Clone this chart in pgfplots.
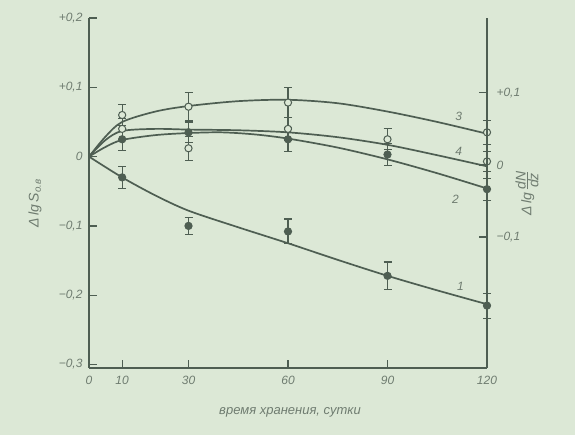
\documentclass[border=0pt]{standalone}
\usepackage{pgfplots}
\pgfplotsset{compat=1.18}
\usepackage{fontspec}
\setmainfont{Liberation Sans}
\definecolor{bg}{HTML}{DCE8D6}
\definecolor{ink}{HTML}{4E5E52}
\definecolor{txt}{HTML}{6F7C70}

\begin{document}
\begin{tikzpicture}[x=1pt,y=1pt]
\fill[bg] (0,0) rectangle (575,435);
\path[use as bounding box] (0,0) rectangle (575,435);
\pgfplotsset{
  common/.style={at={(89pt,67pt)}, anchor=south west, scale only axis,
    width=398pt, height=350pt, xmin=0, xmax=120,
    axis line style={ink, line width=1.3pt, -},
    tick align=inside, major tick length=8pt,
    tick style={ink, line width=1.2pt},
    /pgf/number format/assume math mode=true,
    ticklabel style={font=\fontsize{12}{14}\selectfont\itshape, text=txt},
    clip=false},
  crv/.style={ink, line width=1.7pt, smooth, no marks},
  pts/.style={ink, only marks, line width=1pt, mark size=3.6pt,
    error bars/y dir=both, error bars/y explicit,
    error bars/error bar style={ink, line width=1.1pt},
    error bars/error mark options={rotate=90, mark size=4pt, ink, line width=1.1pt}},
}
\begin{axis}[common,
  ymin=-0.305, ymax=0.2,
  axis x line*=bottom, axis y line*=left,
  xtick={0,10,30,60,90,120},
  xticklabels={\textit{0},\textit{10},\textit{30},\textit{60},\textit{90},\textit{120}},
  xticklabel style={yshift=-5pt},
  ytick={-0.3,-0.2,-0.1,0,0.1,0.2},
  yticklabels={\textit{−0,3},\textit{−0,2},\textit{−0,1},\textit{0},\textit{+0,1},\textit{+0,2}},
  yticklabel style={xshift=-3pt},
]
% curve 3
\addplot[crv] coordinates {(0,0) (5,0.029) (10,0.050) (20,0.065) (30,0.073) (45,0.080) (60,0.082) (75,0.077) (90,0.065) (105,0.050) (120,0.033)};
% curve 4
\addplot[crv] coordinates {(0,0) (5,0.024) (10,0.037) (20,0.040) (30,0.039) (45,0.038) (60,0.035) (75,0.028) (90,0.017) (105,0.002) (120,-0.014)};
% curve 2
\addplot[crv] coordinates {(0,0) (5,0.014) (10,0.024) (20,0.031) (30,0.034) (40,0.035) (50,0.032) (60,0.026) (75,0.013) (90,-0.004) (105,-0.024) (120,-0.046)};
% curve 1
\addplot[crv] coordinates {(0,0) (10,-0.030) (20,-0.056) (30,-0.078) (45,-0.102) (60,-0.125) (75,-0.149) (90,-0.172) (105,-0.193) (120,-0.213)};
% points curve 3 (open)
\addplot[pts, mark=*, mark options={fill=bg, draw=ink}] coordinates {
 (10,0.060) +- (0,0.015) (30,0.072) +- (0,0.020) (60,0.078) +- (0,0.022) (120,0.035) +- (0,0.017)};
% points curve 4 (open)
\addplot[pts, mark=*, mark options={fill=bg, draw=ink}] coordinates {
 (10,0.040) +- (0,0.015) (30,0.012) +- (0,0.017) (60,0.040) +- (0,0.017) (90,0.025) +- (0,0.015) (120,-0.007) +- (0,0.015)};
% points curve 2 (filled)
\addplot[pts, mark=*, mark options={fill=ink, draw=ink}] coordinates {
 (10,0.025) +- (0,0.016) (30,0.035) +- (0,0.015) (60,0.025) +- (0,0.017) (90,0.003) +- (0,0.016) (120,-0.047) +- (0,0.016)};
% points curve 1 (filled)
\addplot[pts, mark=*, mark options={fill=ink, draw=ink}] coordinates {
 (10,-0.030) +- (0,0.016) (30,-0.100) +- (0,0.012) (60,-0.108) +- (0,0.018) (90,-0.172) +- (0,0.020) (120,-0.215) +- (0,0.018)};
\node[text=txt, font=\fontsize{12}{14}\selectfont\itshape] at (axis cs:111.5,0.058) {3};
\node[text=txt, font=\fontsize{12}{14}\selectfont\itshape] at (axis cs:111.5,0.007) {4};
\node[text=txt, font=\fontsize{12}{14}\selectfont\itshape] at (axis cs:110.5,-0.062) {2};
\node[text=txt, font=\fontsize{12}{14}\selectfont\itshape] at (axis cs:112,-0.187) {1};
\end{axis}
\begin{axis}[common,
  ymin=-0.282, ymax=0.204,
  axis y line*=right, axis x line=none,
  ytick={-0.1,0,0.1},
  yticklabels={\textit{−0,1},\textit{0},\textit{+0,1}},
  yticklabel style={xshift=6pt},
]
\end{axis}
\node[rotate=90, text=txt, font=\fontsize{14}{16}\selectfont\itshape] at (35,232) {Δ\,lg\,S\textsubscript{о.в}};
\node[rotate=90, text=txt, font=\fontsize{14}{16}\selectfont\itshape] at (527,242) {Δ\,lg\,$\frac{\textit{dN}}{\textit{dz}}$};
\node[text=txt, font=\fontsize{13}{15}\selectfont\itshape] at (290,23) {время хранения, сутки};
\end{tikzpicture}
\end{document}
